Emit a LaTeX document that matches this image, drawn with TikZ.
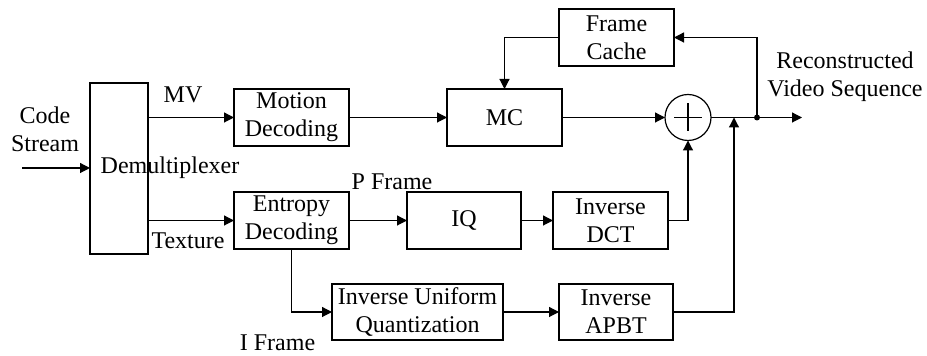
\documentclass[tikz,border=0pt]{standalone}
\usepackage{fontspec}
\setmainfont{Liberation Serif}
\usetikzlibrary{arrows.meta,calc}

\begin{document}
\begin{tikzpicture}[x=0.5pt,y=-0.5pt,every node/.style={font=\fontsize{12}{14}\selectfont,align=center}]
	\tikzstyle{block}=[draw,line width=0.6pt,inner sep=0pt,outer sep=0pt,minimum width=57.5pt,minimum height=28.5pt]
	\tikzstyle{conn}=[line width=0.6pt,-{Triangle[length=5pt,width=5pt]}]
	\tikzstyle{line}=[line width=0.6pt]
	\useasboundingbox (0,0) rectangle (927,356);
	
	\node (demux) [block, minimum width=29pt, minimum height=85.5pt] at (119,168.5) {};		% Demultiplexer
	\node (demuxtext) at (170,168) {Demultiplexer};
	\node (motion) [block] at (291.5,117.5) {Motion\\Decoding};
	\node (entropy) [block] at (291.5,220.5) {Entropy\\Decoding};
	\node (mc) [block] at (504.5,117.5) {MC};
	\node (cache) [block] at (616.5,37.5) {Frame\\Cache};
	\node (iq) [block, minimum width=57pt] at (464,220.5) {IQ};
	\node (idct) [block] at (610.5,220.5) {Inverse\\DCT};
	\node (iuq) [block, minimum width=85.5pt, minimum height=28pt] at (417.5,312) {Inverse Uniform\\Quantization};
	\node (apbt) [block, minimum width=57pt, minimum height=28pt] at (616,312) {Inverse\\APBT};
	\node (adder) [draw,circle,line width=0.6pt,minimum size=23pt,inner sep=0pt,outer sep=0pt] at (688,117.5) {};
	\draw[line] ($(adder.center)+(-14,0)$) -- ($(adder.center)+(14,0)$);
	\draw[line] ($(adder.center)+(0,-14)$) -- ($(adder.center)+(0,14)$);
	\node (dot) [circle,fill,inner sep=0pt,minimum size=3pt] at (757,117.5) {};
	\coordinate (in) at (22,168);
	\coordinate (out) at (802,117.5);
	\coordinate (join) at (734,117.5);
	
	% labels
	\node (codestream) at (45,129) {Code\\Stream};
	\node (recon) at (845,77) {Reconstructed\\Video Sequence};
	\node (mv) at (183,95) {MV};
	\node (texture) at (188,241) {Texture};
	\node (pframe) at (392,182) {P Frame};
	\node (iframe) [inner sep=1pt] at (277.5,343) {I Frame};
	
	% connections
	\draw [conn] (in) -- (in -| demux.west);
	\draw [conn] (demux.east |- motion.west) -- (motion.west);
	\draw [conn] (demux.east |- entropy.west) -- (entropy.west);
	\draw [conn] (motion.east) -- (mc.west);
	\draw [conn] (mc.east) -- (adder.west);
	\draw [conn] (entropy.east) -- (iq.west);
	\draw [conn] (iq.east) -- (idct.west);
	\draw [conn] (idct.east) -| (adder.south);
	\draw [conn] (entropy.south) |- (iuq.west);
	\draw [conn] (iuq.east) -- (apbt.west);
	\draw [conn] (apbt.east) -| (join);
	\draw [conn] (adder.east) -- (out);
	\draw [conn] (dot.center) |- (cache.east);
	\draw [conn] (cache.west) -| (mc.north);
\end{tikzpicture}
\end{document}
